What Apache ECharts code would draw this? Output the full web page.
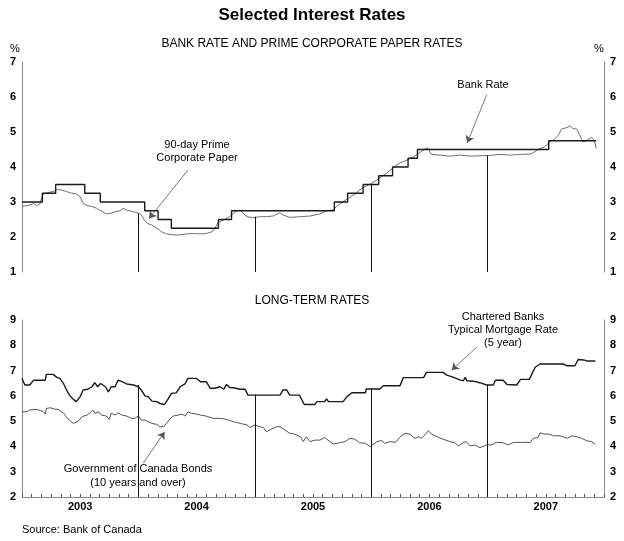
<!DOCTYPE html>
<html>
<head>
<meta charset="utf-8">
<script src="https://cdn.jsdelivr.net/npm/echarts@6/dist/echarts.min.js"></script>
<style>
html,body{margin:0;padding:0;background:#fff;}
#chart{width:624px;height:541px;}
</style>
</head>
<body>
<div id="chart"></div>
<script>
// x values are months since 1 Jan 2003
var years = ['2003','2004','2005','2006','2007'];

var bankRateMonths = [0, 2.1, 3.47, 6.47, 8.07, 12.65, 14.03, 15.4, 20.25, 21.6, 32.2, 33.57, 35.17, 36.77, 38.2, 39.8, 40.77, 54.3, 59.2];
var bankRateValues = [3.00, 3.25, 3.50, 3.25, 3.00, 2.75, 2.50, 2.25, 2.50, 2.75, 3.00, 3.25, 3.50, 3.75, 4.00, 4.25, 4.50, 4.75, 4.75];

var cpMonths = [0,0.5,0.8,1.2,1.5,1.9,2.0,2.2,2.7,3.2,3.6,4.1,4.6,5.1,5.6,6.0,6.15,6.3,6.7,7.2,7.7,8.0,8.7,9.2,9.6,10.1,10.4,10.8,11.5,12.0,12.3,12.6,12.9,13.4,13.9,14.4,14.9,15.6,16.3,17.0,17.7,18.4,19.0,19.6,19.9,20.2,20.8,21.4,21.8,22.1,22.5,22.8,23.2,23.8,24.5,25.2,25.9,26.6,26.9,27.6,28.7,29.7,30.7,31.4,32.1,32.4,33.1,33.8,34.5,35.2,35.9,36.6,37.3,37.8,38.3,39.0,39.7,40.4,40.9,41.4,41.8,42.2,43.1,44.1,45.2,46.2,47.2,48.2,49.3,50.3,51.3,52.4,52.7,53.2,53.9,54.4,54.9,55.3,55.6,56.2,56.5,56.8,57.2,57.5,57.8,58.2,58.7,59.0,59.2];
var cpValues = [2.87,2.90,2.91,2.96,2.89,2.96,3.10,3.23,3.27,3.30,3.36,3.34,3.30,3.25,3.23,3.15,3.20,2.96,2.90,2.87,2.82,2.77,2.66,2.68,2.72,2.75,2.82,2.77,2.72,2.68,2.63,2.49,2.39,2.34,2.25,2.15,2.09,2.06,2.06,2.09,2.10,2.09,2.10,2.15,2.25,2.41,2.49,2.58,2.68,2.74,2.77,2.68,2.58,2.55,2.58,2.58,2.60,2.70,2.63,2.56,2.58,2.60,2.66,2.75,2.77,2.87,3.01,3.13,3.27,3.42,3.51,3.63,3.77,3.87,3.99,4.12,4.20,4.30,4.39,4.49,4.55,4.36,4.34,4.31,4.34,4.31,4.32,4.33,4.36,4.34,4.36,4.37,4.41,4.50,4.58,4.72,4.79,4.91,5.08,5.13,5.17,5.10,5.08,4.91,4.72,4.75,4.85,4.77,4.53];

var mortgageMonths = [0,0.3,0.8,1.2,2.4,2.5,3.2,3.6,3.9,4.3,4.6,4.9,5.3,5.6,6.0,6.3,6.8,7.2,7.5,7.8,8.1,8.6,8.9,9.2,9.6,9.9,10.3,10.8,11.5,12.0,12.3,12.7,13.0,13.4,13.9,14.2,14.7,15.1,15.4,15.9,16.3,16.8,17.1,18.0,18.4,19.0,19.4,19.9,20.4,20.8,21.1,21.4,21.8,22.5,23.0,23.3,26.6,26.9,27.3,27.6,28.6,29.1,30.2,30.4,31.2,31.4,31.6,33.1,33.5,34.0,35.4,35.5,36.9,37.25,38.97,39.3,41.4,41.7,43.4,43.8,44.5,45.2,45.5,45.7,45.85,46.5,47.2,47.9,48.6,48.8,49.6,50.0,51.0,51.4,52.3,52.9,53.4,55.8,56.2,57.0,57.35,57.9,58.2,59.1];
var mortgageValues = [6.69,6.43,6.43,6.62,6.62,6.85,6.85,6.73,6.69,6.47,6.23,6.03,5.86,5.77,5.97,6.23,6.26,6.36,6.52,6.36,6.49,6.36,6.16,6.36,6.36,6.62,6.56,6.47,6.43,6.36,6.23,5.99,5.97,5.79,5.77,5.70,5.66,5.90,6.10,6.12,6.36,6.47,6.69,6.69,6.56,6.56,6.30,6.30,6.36,6.26,6.45,6.33,6.32,6.26,6.26,6.03,6.03,6.23,6.23,6.03,6.03,5.66,5.66,5.77,5.77,5.88,5.77,5.77,5.97,6.12,6.12,6.27,6.27,6.40,6.40,6.72,6.72,6.93,6.93,6.82,6.73,6.62,6.60,6.73,6.60,6.58,6.52,6.43,6.43,6.62,6.62,6.45,6.43,6.65,6.65,7.13,7.26,7.26,7.19,7.19,7.44,7.42,7.38,7.38];

var bondMonths = [0,0.5,0.8,1.5,2.2,2.4,2.5,2.9,3.4,3.7,4.3,4.6,4.9,5.3,5.5,5.8,6.2,6.7,7.0,7.3,7.5,7.9,8.2,8.7,9.0,9.2,9.6,9.9,10.3,10.8,11.3,11.6,12.0,12.3,12.7,13.0,13.4,13.9,14.2,14.6,14.9,15.3,15.6,16.1,16.5,16.8,17.1,17.5,17.7,18.0,18.4,19.0,19.7,20.4,21.1,21.8,22.5,23.2,23.5,24.0,24.5,24.9,25.2,25.6,26.3,26.6,27.1,27.6,28.1,28.7,29.0,29.3,29.7,30.2,30.7,31.2,31.75,32.1,32.8,33.3,33.8,34.3,34.8,35.4,35.9,36.2,36.6,37.1,37.4,37.9,38.5,39.0,39.5,40.0,40.5,40.9,41.2,41.6,41.9,42.2,42.8,43.4,44.1,44.6,45.0,45.5,45.8,46.2,46.7,47.2,47.9,48.4,48.9,49.6,50.1,50.7,51.4,52.4,52.7,53.2,53.4,53.8,54.3,54.8,55.5,56.2,56.7,57.2,57.7,58.2,58.7,59.1];
var bondValues = [5.37,5.37,5.44,5.47,5.37,5.28,5.50,5.53,5.47,5.47,5.31,5.14,5.04,4.91,4.87,5.00,5.18,5.24,5.33,5.44,5.31,5.37,5.24,5.20,5.07,5.31,5.24,5.33,5.24,5.20,5.11,5.11,5.20,5.04,5.04,4.98,4.91,4.87,4.78,4.78,4.91,5.11,5.20,5.24,5.28,5.20,5.37,5.31,5.37,5.28,5.24,5.20,5.11,5.11,5.07,4.98,4.91,4.85,4.75,4.85,4.78,4.75,4.58,4.67,4.78,4.78,4.65,4.52,4.49,4.38,4.19,4.38,4.19,4.25,4.25,4.35,4.19,4.09,4.15,4.19,4.32,4.29,4.15,4.12,3.99,4.08,4.19,4.23,4.12,4.19,4.16,4.38,4.52,4.48,4.32,4.38,4.32,4.49,4.62,4.49,4.38,4.29,4.19,4.15,4.02,4.16,4.19,4.02,4.06,3.95,4.06,4.06,4.16,4.15,4.06,4.16,4.16,4.16,4.32,4.35,4.54,4.49,4.49,4.42,4.42,4.32,4.42,4.38,4.32,4.23,4.19,4.09];

// year separators: month, and the value each reaches in each panel
var sepMonths = [12, 24, 36, 48];
var sepTopShort = [2.68, 2.58, 3.50, 4.33];
var sepTopLong = [6.43, 6.05, 6.30, 6.45];

// annotation arrows [fromMonth, fromValue, toMonth, toValue]
var arrowCP = [17.1, 3.91, 13.1, 2.53];
var arrowBank = [47.9, 6.06, 45.9, 4.69];
var arrowMortgage = [46.9, 7.93, 44.3, 7.02];
var arrowBond = [12.5, 3.34, 14.7, 4.57];

function zip(a, b) { return a.map(function (v, i) { return [v, b[i]]; }); }

var FONT = '"Liberation Sans", Arial, Helvetica, sans-serif';

function sepLines(tops, base) {
  return sepMonths.map(function (m, i) { return [{coord: [m, base]}, {coord: [m, tops[i]]}]; });
}
function arrowLine(a) { return [[{coord: [a[0], a[1]]}, {coord: [a[2], a[3]]}]]; }

var yCommon = function (min, max, pos, grid) {
  return {
    type: 'value', gridIndex: grid, min: min, max: max, interval: 1, position: pos,
    axisLine: {show: true, lineStyle: {color: '#888', width: 1}},
    axisTick: {show: false},
    splitLine: {show: false},
    axisLabel: {color: '#000', fontFamily: FONT, fontWeight: 'bold', fontSize: 11, margin: 6}
  };
};

var chart = echarts.init(document.getElementById('chart'), null, {renderer: 'canvas'});
chart.setOption({
  animation: false,
  backgroundColor: '#fff',
  grid: [
    {left: 22, right: 20, top: 62, height: 210},
    {left: 22, right: 20, top: 320, height: 177}
  ],
  xAxis: [
    {type: 'value', gridIndex: 0, min: 0, max: 60, show: false},
    {type: 'value', gridIndex: 1, min: 0, max: 60, interval: 1,
     axisLine: {show: true, lineStyle: {color: '#888', width: 1}},
     axisTick: {show: true, inside: true, length: 3, lineStyle: {color: '#555'}},
     splitLine: {show: false},
     axisLabel: {color: '#000', fontFamily: FONT, fontWeight: 'bold', fontSize: 11, margin: 4,
       formatter: function (v) { return (v % 12 === 6) ? years[(v - 6) / 12] : ''; }}}
  ],
  yAxis: [
    yCommon(1, 7, 'left', 0), yCommon(1, 7, 'right', 0),
    yCommon(2, 9, 'left', 1), yCommon(2, 9, 'right', 1)
  ],
  series: [
    {name: 'Bank Rate', type: 'line', xAxisIndex: 0, yAxisIndex: 0, step: 'end', showSymbol: false, symbol: 'none',
     data: zip(bankRateMonths, bankRateValues), lineStyle: {color: '#1a1a1a', width: 1.4}, z: 3,
     markLine: {silent: true, symbol: 'none', label: {show: false}, lineStyle: {color: '#111', width: 1, type: 'solid'},
       data: sepLines(sepTopShort, 1)}},
    {name: 'CP', type: 'line', xAxisIndex: 0, yAxisIndex: 0, showSymbol: false, symbol: 'none',
     data: zip(cpMonths, cpValues), lineStyle: {color: '#707070', width: 1}, z: 2,
     markLine: {silent: true, symbol: ['none', 'arrow'], symbolSize: 7, label: {show: false},
       lineStyle: {color: '#555', width: 0.8, type: 'solid'},
       data: arrowLine(arrowCP).concat(arrowLine(arrowBank))}},
    {name: 'Mortgage', type: 'line', xAxisIndex: 1, yAxisIndex: 2, showSymbol: false, symbol: 'none',
     data: zip(mortgageMonths, mortgageValues), lineStyle: {color: '#1a1a1a', width: 1.4}, z: 3,
     markLine: {silent: true, symbol: 'none', label: {show: false}, lineStyle: {color: '#111', width: 1, type: 'solid'},
       data: sepLines(sepTopLong, 2)}},
    {name: 'Bonds', type: 'line', xAxisIndex: 1, yAxisIndex: 2, showSymbol: false, symbol: 'none',
     data: zip(bondMonths, bondValues), lineStyle: {color: '#404040', width: 0.9}, z: 2,
     markLine: {silent: true, symbol: ['none', 'arrow'], symbolSize: 7, label: {show: false},
       lineStyle: {color: '#555', width: 0.8, type: 'solid'},
       data: arrowLine(arrowMortgage).concat(arrowLine(arrowBond))}}
  ],
  graphic: [
    {type: 'text', x: 312, y: 15, style: {text: 'Selected Interest Rates', font: 'bold 17px ' + FONT, fill: '#000', textAlign: 'center', textVerticalAlign: 'middle'}},
    {type: 'text', x: 312, y: 44, style: {text: 'BANK RATE AND PRIME CORPORATE PAPER RATES', font: '12px ' + FONT, fill: '#000', textAlign: 'center', textVerticalAlign: 'middle'}},
    {type: 'text', x: 15, y: 49, style: {text: '%', font: '11px ' + FONT, fill: '#000', textAlign: 'center', textVerticalAlign: 'middle'}},
    {type: 'text', x: 599, y: 49, style: {text: '%', font: '11px ' + FONT, fill: '#000', textAlign: 'center', textVerticalAlign: 'middle'}},
    {type: 'text', x: 312, y: 301, style: {text: 'LONG-TERM RATES', font: '12px ' + FONT, fill: '#000', textAlign: 'center', textVerticalAlign: 'middle'}},
    {type: 'text', x: 197, y: 151, style: {text: '90-day Prime\nCorporate Paper', font: '11px ' + FONT, lineHeight: 13, fill: '#000', textAlign: 'center', textVerticalAlign: 'middle'}},
    {type: 'text', x: 483, y: 85, style: {text: 'Bank Rate', font: '11px ' + FONT, fill: '#000', textAlign: 'center', textVerticalAlign: 'middle'}},
    {type: 'text', x: 503, y: 330, style: {text: 'Chartered Banks\nTypical Mortgage Rate\n(5 year)', font: '11px ' + FONT, lineHeight: 13, fill: '#000', textAlign: 'center', textVerticalAlign: 'middle'}},
    {type: 'text', x: 138, y: 476, style: {text: 'Government of Canada Bonds\n(10 years and over)', font: '11px ' + FONT, lineHeight: 14, fill: '#000', textAlign: 'center', textVerticalAlign: 'middle'}},
    {type: 'text', x: 22, y: 530, style: {text: 'Source: Bank of Canada', font: '11px ' + FONT, fill: '#000', textAlign: 'left', textVerticalAlign: 'middle'}}
  ]
});
</script>
</body>
</html>
